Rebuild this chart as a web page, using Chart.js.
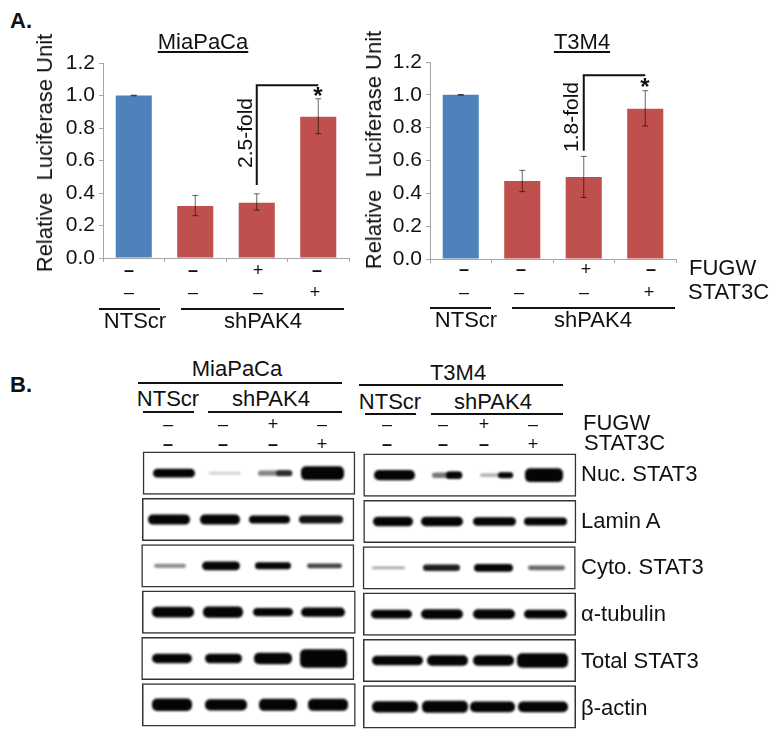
<!DOCTYPE html>
<html>
<head>
<meta charset="utf-8">
<script src="https://cdn.jsdelivr.net/npm/chart.js@4"></script>
<style>
body { margin: 0; background: #fff; width: 782px; height: 740px; overflow: hidden; position: relative; font-family: "Liberation Sans", Arial, sans-serif; color: #111; }
canvas { position: absolute; }
.t { position: absolute; white-space: pre; transform: translate(-50%, -50%); font-size: 22px; line-height: 1; }
.l { transform: translate(0, -50%); }
.v { transform: translate(-50%, -50%) rotate(-90deg); }
.rule { position: absolute; background: #111; height: 2px; }
</style>
</head>
<body>
<canvas id="chartMia"></canvas>
<canvas id="chartT3m4"></canvas>
<canvas id="blotMia"></canvas>
<canvas id="blotT3m4"></canvas>
<script>
const categories = ['NTScr', 'shPAK4', 'shPAK4 + FUGW', 'shPAK4 + STAT3C'];
const yTicks = ['0.0', '0.2', '0.4', '0.6', '0.8', '1.0', '1.2'];
const barColors = ['#4f81bd', '#c0504d', '#c0504d', '#c0504d'];

const miaValues = [1.0, 0.32, 0.34, 0.87];
const miaLow = [0.998, 0.26, 0.295, 0.765];
const miaHigh = [1.002, 0.385, 0.395, 0.98];
const miaBracket = [0.45, 1.063];

const t3m4Values = [1.0, 0.475, 0.5, 0.915];
const t3m4Low = [0.998, 0.41, 0.375, 0.81];
const t3m4High = [1.002, 0.54, 0.625, 1.025];
const t3m4Bracket = [0.66, 1.119];

const fugwMarks = ['–', '–', '+', '–'];
const stat3cMarks = ['–', '–', '–', '+'];
const blotRows = ['Nuc. STAT3', 'Lamin A', 'Cyto. STAT3', 'α-tubulin', 'Total STAT3', 'β-actin'];

// blots: band edges on the gel axis, band height as part of a row, density 0-1
// a fifth or sixth entry in a row is the darker end of a smeared band
const miaFrames = [[4.7, 217.3], [4, 216.3], [3.3, 216.3], [4, 217.7], [3.3, 216.3], [4, 217.7]];
const miaBands = [
    [[15, 57], [71, 103], [120, 154], [163, 206], [138, 154]],
    [[10, 52], [62, 102], [111, 152], [161, 205]],
    [[16, 48], [64, 102], [117, 153], [169, 204]],
    [[14, 56], [65, 105], [115, 155], [163, 207]],
    [[14, 54], [67, 104], [116, 154], [162, 209]],
    [[14, 54], [67, 109], [121, 159], [170, 210]]
];
const miaHeights = [
    [.19, .06, .11, .3, .11],
    [.22, .22, .17, .17],
    [.09, .19, .15, .1],
    [.23, .24, .18, .2],
    [.2, .21, .25, .4],
    [.27, .24, .26, .26]
];
const miaDensity = [
    [1, .2, .5, 1, .85],
    [1, 1, 1, .95],
    [.45, 1, 1, .75],
    [1, 1, 1, 1],
    [1, 1, 1, 1],
    [1, 1, 1, 1]
];

const t3m4Frames = [[3.3, 216.3], [3.3, 216.3], [2.7, 215.7], [3, 216], [3, 216], [3, 216]];
const t3m4Bands = [
    [[14, 55], [72, 102], [120, 153], [165, 203], [86, 102], [138, 153]],
    [[13, 53], [61, 103], [113, 156], [164, 207]],
    [[12, 45], [63, 100], [114, 153], [168, 205]],
    [[11, 52], [61, 103], [113, 155], [164, 207]],
    [[12, 63], [67, 108], [113, 154], [157, 208]],
    [[12, 58], [62, 108], [110, 155], [158, 208]]
];
const t3m4Heights = [
    [.22, .12, .08, .3, .16, .13],
    [.21, .2, .18, .17],
    [.06, .14, .17, .1],
    [.19, .21, .21, .19],
    [.21, .23, .23, .31],
    [.24, .26, .23, .23]
];
const t3m4Density = [
    [1, .55, .3, 1, 1, 1],
    [1, 1, 1, 1],
    [.35, .9, 1, .6],
    [1, 1, 1, 1],
    [1, 1, 1, 1],
    [1, 1, 1, 1]
];

function put(text, x, y, cls, style) {
    const el = document.createElement('div');
    el.className = 't ' + (cls || '');
    el.textContent = text;
    el.style.left = x + 'px';
    el.style.top = y + 'px';
    if (style) el.style.cssText += style;
    document.body.appendChild(el);
}

function rule(x1, x2, y) {
    const el = document.createElement('div');
    el.className = 'rule';
    el.style.left = x1 + 'px';
    el.style.top = (y - 1) + 'px';
    el.style.width = (x2 - x1) + 'px';
    document.body.appendChild(el);
}

// a minus is drawn heavy in some rows, a plus never is
function mark(text, x, y, heavy) {
    put(text, x, y, '', 'font-size:18px;' + (heavy && text !== '+' ? 'font-weight:bold' : ''));
}

function placeCanvas(id, left, top, w, h) {
    const c = document.getElementById(id);
    c.style.left = left + 'px';
    c.style.top = top + 'px';
    c.style.width = w + 'px';
    c.style.height = h + 'px';
    c.width = w;
    c.height = h;
    return c;
}

function noScalePadding(s) {
    s.paddingTop = 0;
    s.paddingBottom = 0;
    s.paddingLeft = 0;
    s.paddingRight = 0;
}

const errorBars = {
    id: 'errorBars',
    afterDatasetsDraw(chart, args, opts) {
        const { ctx, scales: { y } } = chart;
        const bars = chart.getDatasetMeta(0).data;
        ctx.save();
        ctx.strokeStyle = 'rgba(0,0,0,0.6)';
        ctx.lineWidth = 1;
        bars.forEach((bar, i) => {
            const top = y.getPixelForValue(opts.high[i]);
            const bottom = y.getPixelForValue(opts.low[i]);
            ctx.beginPath();
            ctx.moveTo(bar.x, top);
            ctx.lineTo(bar.x, bottom);
            ctx.moveTo(bar.x - 3, top);
            ctx.lineTo(bar.x + 3, top);
            ctx.moveTo(bar.x - 3, bottom);
            ctx.lineTo(bar.x + 3, bottom);
            ctx.stroke();
        });
        // fold-change bracket from the third bar to the fourth
        ctx.strokeStyle = '#111';
        ctx.lineWidth = 2;
        ctx.beginPath();
        ctx.moveTo(bars[2].x, y.getPixelForValue(opts.bracket[0]));
        ctx.lineTo(bars[2].x, y.getPixelForValue(opts.bracket[1]));
        ctx.lineTo(bars[3].x, y.getPixelForValue(opts.bracket[1]));
        ctx.stroke();
        ctx.restore();
    }
};

function luciferaseChart(id, values, low, high, bracket) {
    return new Chart(document.getElementById(id), {
        type: 'bar',
        data: {
            labels: categories,
            datasets: [{
                data: values,
                backgroundColor: barColors,
                barPercentage: 0.587,
                categoryPercentage: 1
            }]
        },
        options: {
            responsive: false,
            animation: false,
            layout: { padding: { top: 12, right: 1 } },
            plugins: {
                legend: { display: false },
                tooltip: { enabled: false },
                errorBars: { low: low, high: high, bracket: bracket }
            },
            scales: {
                x: {
                    afterFit: s => { s.height = 6; noScalePadding(s); },
                    ticks: { display: false },
                    grid: { drawOnChartArea: false, tickLength: 4, color: '#a6a6a6' },
                    border: { color: '#a6a6a6' }
                },
                y: {
                    min: 0,
                    max: 1.2,
                    afterFit: s => { s.width = 60; noScalePadding(s); },
                    ticks: {
                        stepSize: 0.2,
                        padding: 4,
                        color: '#111',
                        font: { family: '"Liberation Sans"', size: 21 },
                        callback: (v, i) => yTicks[i]
                    },
                    grid: { drawOnChartArea: false, tickLength: 4, color: '#a6a6a6' },
                    border: { color: '#a6a6a6' }
                }
            }
        },
        plugins: [errorBars]
    });
}

const softBands = {
    id: 'softBands',
    beforeDatasetDraw(chart, args) {
        if (args.meta.label === 'frame') return;
        chart.ctx.save();
        chart.ctx.filter = 'blur(1.2px)';
    },
    afterDatasetDraw(chart, args) {
        if (args.meta.label === 'frame') return;
        chart.ctx.restore();
    }
};

function blotChart(id, frames, bands, heights, density) {
    const datasets = [{
        label: 'frame',
        data: frames,
        backgroundColor: 'rgba(0,0,0,0)',
        borderColor: '#333',
        borderWidth: 1.5,
        borderSkipped: false,
        barPercentage: 0.93
    }];
    bands.forEach((row, r) => {
        row.forEach((band, lane) => {
            const grey = Math.round(255 - 250 * density[r][lane]);
            datasets.push({
                label: blotRows[r] + ' band ' + (lane + 1),
                data: blotRows.map((name, i) => (i === r ? band : null)),
                backgroundColor: `rgb(${grey},${grey},${grey})`,
                borderRadius: 5,
                borderSkipped: false,
                barPercentage: heights[r][lane],
                order: lane > 3 ? -1 : 0
            });
        });
    });
    return new Chart(document.getElementById(id), {
        type: 'bar',
        data: { labels: blotRows, datasets: datasets },
        options: {
            indexAxis: 'y',
            responsive: false,
            animation: false,
            datasets: { bar: { grouped: false, categoryPercentage: 1 } },
            plugins: { legend: { display: false }, tooltip: { enabled: false } },
            scales: {
                x: { type: 'linear', min: 0, max: 222, display: false },
                y: { display: false }
            }
        },
        plugins: [softBands]
    });
}

placeCanvas('chartMia', 43, 51, 307, 213);
placeCanvas('chartT3m4', 370, 50, 307, 215);
placeCanvas('blotMia', 138, 450, 222, 278);
placeCanvas('blotT3m4', 360, 452, 222, 278);

luciferaseChart('chartMia', miaValues, miaLow, miaHigh, miaBracket);
luciferaseChart('chartT3m4', t3m4Values, t3m4Low, t3m4High, t3m4Bracket);
blotChart('blotMia', miaFrames, miaBands, miaHeights, miaDensity);
blotChart('blotT3m4', t3m4Frames, t3m4Bands, t3m4Heights, t3m4Density);

// panel A text
put('A.', 10, 21, 'l', 'font-weight:bold;font-size:22px');
put('MiaPaCa', 203, 42, '', 'text-decoration:underline');
put('T3M4', 582, 42, '', 'text-decoration:underline');
put('Relative  Luciferase Unit', 45, 153, 'v');
put('Relative  Luciferase Unit', 374, 150, 'v');
put('2.5-fold', 244, 133, 'v', 'font-size:21px');
put('1.8-fold', 570, 117, 'v', 'font-size:21px');
put('*', 318, 96, '', 'font-size:24px;font-weight:bold');
put('*', 645, 87, '', 'font-size:24px;font-weight:bold');

[129, 193, 258, 317].forEach((x, i) => {
    mark(fugwMarks[i], x, 270, true);
    mark(stat3cMarks[i], x - (i === 3 ? 2 : 0), 292, false);
});
[464, 521, 586, 651].forEach((x, i) => {
    mark(fugwMarks[i], x, 269, true);
    mark(stat3cMarks[i], x - (i === 0 ? 0 : 2), 292, false);
});

rule(99, 160, 309);
rule(181, 344, 309);
rule(430, 491, 308);
rule(512, 675, 308);
put('NTScr', 135, 321);
put('shPAK4', 263, 321);
put('NTScr', 466, 320);
put('shPAK4', 593, 320);
put('FUGW', 689, 268, 'l');
put('STAT3C', 688, 292, 'l');

// panel B text
put('B.', 10, 385, 'l', 'font-weight:bold;font-size:22px');
put('MiaPaCa', 237, 369);
put('T3M4', 458, 373);
rule(138, 342, 383);
rule(359, 563, 385);
put('NTScr', 168, 399);
put('shPAK4', 271, 399);
put('NTScr', 390, 402);
put('shPAK4', 493, 402);
rule(143, 194, 412);
rule(208, 342, 412);
rule(365, 416, 414);
rule(431, 563, 414);

[168, 223, 273, 322].forEach((x, i) => {
    mark(fugwMarks[i], x, 424, false);
    mark(stat3cMarks[i], x, 444, true);
});
[387, 443, 484, 533].forEach((x, i) => {
    mark(fugwMarks[i], x, 424, false);
    mark(stat3cMarks[i], x, 444, true);
});
put('FUGW', 583, 423, 'l');
put('STAT3C', 584, 443, 'l');

[474, 521, 567, 614, 661, 708].forEach((y, i) => {
    put(blotRows[i], 581, y, 'l');
});
</script>
</body>
</html>
